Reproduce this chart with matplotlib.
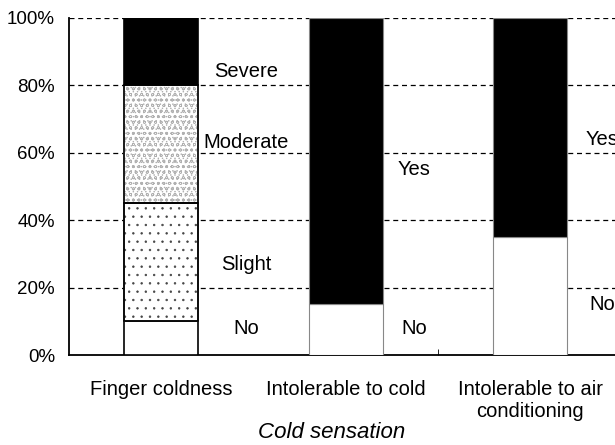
import matplotlib
matplotlib.use('Agg')
import matplotlib.pyplot as plt
import numpy as np

plt.rcParams['font.family'] = ['Liberation Sans', 'DejaVu Sans']
plt.rcParams['hatch.linewidth'] = 0.5

# data (percent of respondents)
categories = ['Finger coldness', 'Intolerable to cold', 'Intolerable to air\nconditioning']
finger_levels = ['No', 'Slight', 'Moderate', 'Severe']
finger_values = [10, 35, 35, 20]
yesno_levels = ['No', 'Yes']
cold_values = [15, 85]
aircon_values = [35, 65]
yticks = [0, 20, 40, 60, 80, 100]

# label placement (layout only)
finger_label_y = [8, 27, 63, 84]
cold_label_y = [8, 55]
aircon_label_y = [15, 64]
label_dx = [0.46, 0.37, 0.39]

fig = plt.figure(figsize=(6.15, 4.45), dpi=100)
ax = fig.add_axes([69 / 615, 1 - 355 / 445, 553.5 / 615, 337 / 445])

bar_w = 0.4
styles = {
    'No': dict(color='white', hatch=None),
    'Slight': dict(color='white', hatch='..'),
    'Moderate': dict(color='white', hatch='ooo....'),
    'Severe': dict(color='black', hatch=None),
    'Yes': dict(color='black', hatch=None),
}


def stacked(x, levels, values, label_y, edge):
    bottom = 0
    for lev, val, ly in zip(levels, values, label_y):
        st = styles[lev]
        b = ax.bar(x, val, bar_w, bottom=bottom, color=st['color'],
                   edgecolor=edge, linewidth=1.2 if edge == 'black' else 0.8,
                   zorder=3)
        if st['hatch']:
            for p in b:
                p.set_hatch(st['hatch'])
                p.set_edgecolor('#444444' if lev == 'Slight' else '#b0b0b0')
            ax.bar(x, val, bar_w, bottom=bottom, fill=False,
                   edgecolor='black', linewidth=1.2, zorder=4)
        ax.text(x + label_dx[x], ly, lev, ha='center', va='center',
                fontsize=14.5, zorder=5)
        bottom += val


stacked(0, finger_levels, finger_values, finger_label_y, 'black')
stacked(1, yesno_levels, cold_values, cold_label_y, '#888888')
stacked(2, yesno_levels, aircon_values, aircon_label_y, '#888888')

ax.set_xlim(-0.5, 2.5)
ax.set_ylim(0, 100)
ax.set_yticks(yticks)
ax.set_yticklabels([f'{v}%' for v in yticks], fontsize=13.5)
ax.set_xticks(range(len(categories)))
ax.set_xticklabels(categories, fontsize=14.5, linespacing=1.2)
ax.tick_params(axis='x', length=0, pad=18)
ax.tick_params(axis='y', length=0, pad=10)
ax.set_xticks([1.5], minor=True)
ax.tick_params(axis='x', which='minor', length=4, direction='in', width=0.6)

for v in yticks[1:]:
    ax.axhline(v, color='black', linestyle=(0, (4, 3)), linewidth=0.9, zorder=1)

ax.spines['top'].set_visible(False)
ax.spines['right'].set_visible(False)
ax.spines['left'].set_linewidth(1.3)
ax.spines['bottom'].set_linewidth(1.3)

fig.text(332 / 615, 1 - 433 / 445, 'Cold sensation', ha='center', va='center',
         fontsize=16, style='italic')

fig.savefig('out.png', dpi=100)
